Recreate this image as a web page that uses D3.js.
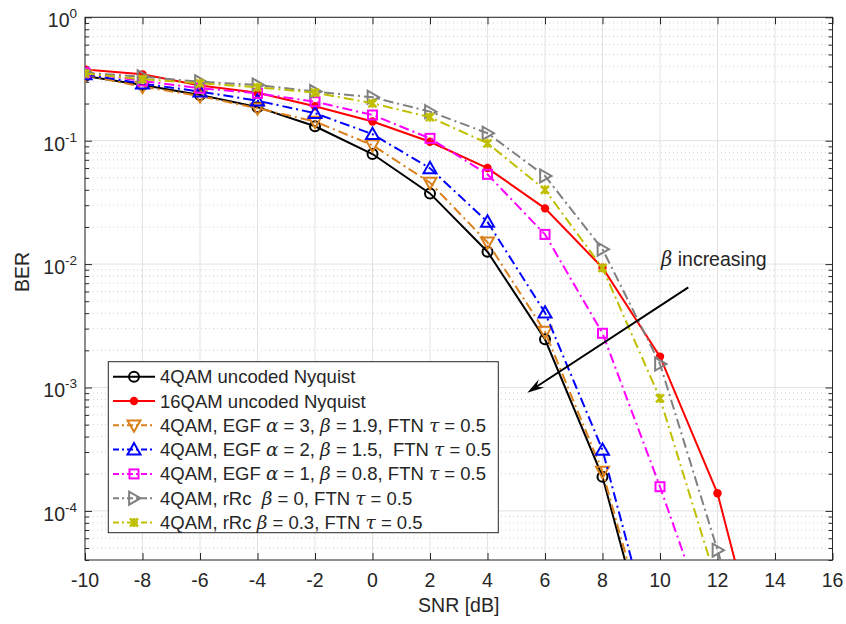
<!DOCTYPE html>
<html>
<head>
<meta charset="utf-8">
<script src="https://cdn.jsdelivr.net/npm/d3@7/dist/d3.min.js"></script>
<style>
  body { margin: 0; background: #fff; }
  text { font-family: "Liberation Sans", Arial, sans-serif; fill: #262626; white-space: pre; }
  .greek { font-family: "DejaVu Serif", "Liberation Serif", serif; font-style: italic; }
</style>
</head>
<body>
<svg id="chart" width="846" height="624"></svg>
<script>
// SNR points (dB)
const snr = [-10, -8, -6, -4, -2, 0, 2, 4, 6, 8, 10, 12, 14];

// BER values
const ber4qamNyquist  = [0.335, 0.283, 0.235, 0.187, 0.131, 0.078, 0.0374, 0.0126, 0.00246, 1.89e-4, 3.5e-6];
const ber16qamNyquist = [0.378, 0.345, 0.28, 0.245, 0.19, 0.143, 0.098, 0.06, 0.0283, 0.00935, 0.00178, 1.39e-4, 2.2e-6];
const berEgfA3        = [0.34, 0.274, 0.23, 0.183, 0.143, 0.092, 0.0457, 0.015, 0.00283, 2.08e-4, 4.5e-6];
const berEgfA2        = [0.345, 0.29, 0.25, 0.211, 0.167, 0.113, 0.0598, 0.022, 0.00404, 3.12e-4, 5.4e-6];
const berEgfA1        = [0.355, 0.305, 0.266, 0.242, 0.207, 0.1615, 0.1045, 0.0534, 0.0174, 0.00275, 1.57e-4, 7.3e-6];
const berRrcB0        = [0.355, 0.33, 0.3, 0.283, 0.25, 0.225, 0.172, 0.115, 0.0518, 0.0132, 0.00155, 4.8e-5, 1.6e-6];
const berRrcB03       = [0.35, 0.315, 0.292, 0.271, 0.245, 0.201, 0.155, 0.0953, 0.04, 0.0093, 8.17e-4, 2.5e-5];

const xTicks = [-10, -8, -6, -4, -2, 0, 2, 4, 6, 8, 10, 12, 14, 16];
const yTickExps = [0, -1, -2, -3, -4];

const series = [
  { ber: ber4qamNyquist,  color: '#000000', dash: null,         marker: 'circle',
    label: [['4QAM uncoded Nyquist']] },
  { ber: ber16qamNyquist, color: '#ff0000', dash: null,         marker: 'dot',
    label: [['16QAM uncoded Nyquist']] },
  { ber: berEgfA3,        color: '#d9801b', dash: '10,4,2,4',   marker: 'triDown',
    label: [['4QAM, EGF '], ['α', 1], [' = 3, '], ['β', 1], [' = 1.9, FTN '], ['τ', 1], [' = 0.5']] },
  { ber: berEgfA2,        color: '#0000ff', dash: '10,4,2,4',   marker: 'triUp',
    label: [['4QAM, EGF '], ['α', 1], [' = 2, '], ['β', 1], [' = 1.5,  FTN '], ['τ', 1], [' = 0.5']] },
  { ber: berEgfA1,        color: '#ff00ff', dash: '10,4,2,4',   marker: 'square',
    label: [['4QAM, EGF '], ['α', 1], [' = 1, '], ['β', 1], [' = 0.8, FTN '], ['τ', 1], [' = 0.5']] },
  { ber: berRrcB0,        color: '#808080', dash: '10,4,2,4',   marker: 'triRight',
    label: [['4QAM, rRc  '], ['β', 1], [' = 0, FTN '], ['τ', 1], [' = 0.5']] },
  { ber: berRrcB03,       color: '#bfbf00', dash: '10,4,2,4',   marker: 'cross',
    label: [['4QAM, rRc '], ['β', 1], [' = 0.3, FTN '], ['τ', 1], [' = 0.5']] }
];

const svg = d3.select('#chart');
const pLeft = 85, pRight = 832.5, pTop = 17.3, pBottom = 560;

const x = d3.scaleLinear().domain([-10, 16]).range([pLeft, pRight]);
const y = d3.scaleLog().domain([4e-5, 1]).range([pBottom, pTop]);

// grid
const grid = svg.append('g');
const minorVals = [];
for (let e = -5; e < 0; e++) {
  for (let m = 2; m <= 9; m++) {
    const v = m * Math.pow(10, e);
    if (v >= 4e-5 && v < 1) minorVals.push(v);
  }
}
grid.selectAll('.minor').data(minorVals).enter().append('line')
  .attr('x1', pLeft).attr('x2', pRight)
  .attr('y1', d => y(d)).attr('y2', d => y(d))
  .attr('stroke', '#c4c4c4').attr('stroke-width', 0.8).attr('stroke-dasharray', '1,3');
grid.selectAll('.majorY').data(yTickExps).enter().append('line')
  .attr('x1', pLeft).attr('x2', pRight)
  .attr('y1', d => y(Math.pow(10, d))).attr('y2', d => y(Math.pow(10, d)))
  .attr('stroke', '#e2e2e2').attr('stroke-width', 1);
grid.selectAll('.majorX').data(xTicks).enter().append('line')
  .attr('x1', d => x(d)).attr('x2', d => x(d))
  .attr('y1', pTop).attr('y2', pBottom)
  .attr('stroke', '#e2e2e2').attr('stroke-width', 1);

// axes box + inward ticks
const axes = svg.append('g');
axes.append('rect').attr('x', pLeft).attr('y', pTop)
  .attr('width', pRight - pLeft).attr('height', pBottom - pTop)
  .attr('fill', 'none').attr('stroke', '#262626').attr('stroke-width', 1);

axes.append('g').attr('transform', `translate(0,${pBottom})`)
  .call(d3.axisBottom(x).tickValues(xTicks).tickSize(-7).tickFormat(''));
axes.append('g').attr('transform', `translate(0,${pTop})`)
  .call(d3.axisTop(x).tickValues(xTicks).tickSize(-7).tickFormat(''));

const yMajor = yTickExps.map(e => Math.pow(10, e));
axes.append('g').attr('transform', `translate(${pLeft},0)`)
  .call(d3.axisLeft(y).tickValues(yMajor).tickSize(-7).tickFormat(''));
axes.append('g').attr('transform', `translate(${pRight},0)`)
  .call(d3.axisRight(y).tickValues(yMajor).tickSize(-7).tickFormat(''));
axes.append('g').attr('transform', `translate(${pLeft},0)`)
  .call(d3.axisLeft(y).tickValues(minorVals).tickSize(-4).tickFormat(''));
axes.append('g').attr('transform', `translate(${pRight},0)`)
  .call(d3.axisRight(y).tickValues(minorVals).tickSize(-4).tickFormat(''));
axes.selectAll('.domain').remove();
axes.selectAll('.tick line').attr('stroke', '#262626');

// tick labels
svg.append('g').selectAll('text').data(xTicks).enter().append('text')
  .attr('x', d => x(d)).attr('y', 587)
  .attr('text-anchor', 'middle').attr('font-size', 19.5)
  .text(d => d);

const yl = svg.append('g').selectAll('text').data(yTickExps).enter().append('text')
  .attr('x', 77).attr('y', d => y(Math.pow(10, d)) + 10)
  .attr('text-anchor', 'end').attr('font-size', 19.5);
yl.append('tspan').text('10');
yl.append('tspan').attr('font-size', 13.5).attr('dy', -9).text(d => d);

svg.append('text').attr('x', (pLeft + pRight) / 2).attr('y', 612)
  .attr('text-anchor', 'middle').attr('font-size', 19.5).text('SNR [dB]');
svg.append('text').attr('transform', 'translate(29,272) rotate(-90)')
  .attr('text-anchor', 'middle').attr('font-size', 19.5).text('BER');

// markers
function drawMarker(g, type, cx, cy, color) {
  const s = 6.5;
  if (type === 'circle') {
    g.append('circle').attr('cx', cx).attr('cy', cy).attr('r', 5)
      .attr('fill', 'none').attr('stroke', color).attr('stroke-width', 2);
  } else if (type === 'dot') {
    g.append('circle').attr('cx', cx).attr('cy', cy).attr('r', 4.2).attr('fill', color);
  } else if (type === 'square') {
    g.append('rect').attr('x', cx - 4.5).attr('y', cy - 4.5).attr('width', 9).attr('height', 9)
      .attr('fill', 'none').attr('stroke', color).attr('stroke-width', 2);
  } else if (type === 'cross') {
    g.append('path').attr('d', `M${cx - 4},${cy - 4}L${cx + 4},${cy + 4}M${cx - 4},${cy + 4}L${cx + 4},${cy - 4}M${cx},${cy - 4.5}L${cx},${cy + 4.5}`)
      .attr('stroke', color).attr('stroke-width', 2.5).attr('fill', 'none');
  } else {
    let pts;
    if (type === 'triDown') pts = [[cx - s, cy - s * 0.75], [cx + s, cy - s * 0.75], [cx, cy + s]];
    if (type === 'triUp') pts = [[cx - s, cy + s * 0.75], [cx + s, cy + s * 0.75], [cx, cy - s]];
    if (type === 'triRight') pts = [[cx - s * 0.75, cy - s], [cx - s * 0.75, cy + s], [cx + s, cy]];
    g.append('path').attr('d', 'M' + pts.map(p => p.join(',')).join('L') + 'Z')
      .attr('fill', 'none').attr('stroke', color).attr('stroke-width', 2).attr('stroke-linejoin', 'miter');
  }
}

// curves
svg.append('clipPath').attr('id', 'clip').append('rect')
  .attr('x', pLeft).attr('y', pTop).attr('width', pRight - pLeft).attr('height', pBottom - pTop);
const plot = svg.append('g').attr('clip-path', 'url(#clip)');
const line = d3.line().x(d => x(d[0])).y(d => y(d[1]));

series.forEach(s => {
  const pts = s.ber.map((v, i) => [snr[i], v]);
  const g = plot.append('g');
  g.append('path').datum(pts).attr('d', line)
    .attr('fill', 'none').attr('stroke', s.color).attr('stroke-width', 2)
    .attr('stroke-dasharray', s.dash);
  pts.filter(p => p[1] >= 4e-5).forEach(p => drawMarker(g, s.marker, x(p[0]), y(p[1]), s.color));
});

// legend
const lg = svg.append('g');
const lgTop = 361.7, lgLeft = 108.3, rowH = 24.3;
lg.append('rect').attr('x', lgLeft).attr('y', lgTop).attr('width', 390).attr('height', 171)
  .attr('fill', '#fff').attr('stroke', '#262626').attr('stroke-width', 1);
series.forEach((s, i) => {
  const cy = lgTop + 15 + i * rowH;
  const g = lg.append('g');
  g.append('line').attr('x1', 113).attr('x2', 155).attr('y1', cy).attr('y2', cy)
    .attr('stroke', s.color).attr('stroke-width', 2).attr('stroke-dasharray', s.dash ? '6,3,2,3' : null);
  drawMarker(g, s.marker, 134, cy, s.color);
  const t = g.append('text').attr('x', 160).attr('y', cy + 6.5).attr('font-size', 18.5);
  s.label.forEach(seg => {
    const ts = t.append('tspan').text(seg[0]);
    if (seg[1]) ts.attr('class', 'greek');
  });
});

// arrow annotation (drawn on top)
const ann = svg.append('g');
const ax0 = 688.3, ay0 = 287.3, ax1 = 527.3, ay1 = 392.7;
const ang = Math.atan2(ay1 - ay0, ax1 - ax0);
const hl = 14, hw = 5;
const bx = ax1 - hl * Math.cos(ang), by = ay1 - hl * Math.sin(ang);
const nx = -Math.sin(ang), ny = Math.cos(ang);
ann.append('line').attr('x1', ax0).attr('y1', ay0).attr('x2', bx + 4 * Math.cos(ang)).attr('y2', by + 4 * Math.sin(ang))
  .attr('stroke', '#000').attr('stroke-width', 2);
ann.append('path')
  .attr('d', `M${ax1},${ay1}L${bx + hw * nx - 3 * Math.cos(ang)},${by + hw * ny - 3 * Math.sin(ang)}L${bx + 3 * Math.cos(ang)},${by + 3 * Math.sin(ang)}L${bx - hw * nx - 3 * Math.cos(ang)},${by - hw * ny - 3 * Math.sin(ang)}Z`)
  .attr('fill', '#000');
const at = ann.append('text').attr('x', 661).attr('y', 266).attr('font-size', 19.5);
at.append('tspan').attr('class', 'greek').text('β');
at.append('tspan').text(' increasing');
</script>
</body>
</html>
